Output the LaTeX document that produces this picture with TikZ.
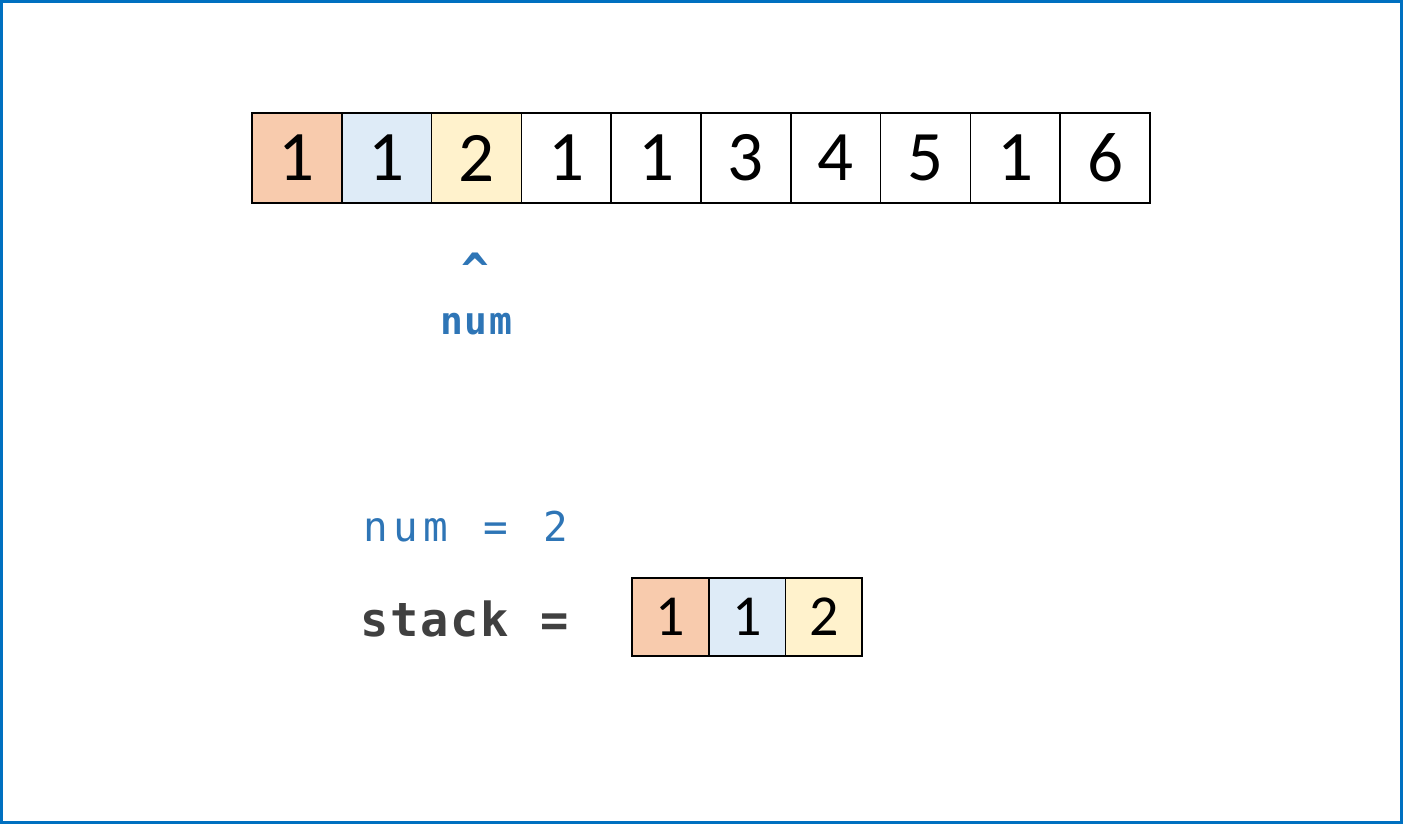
\documentclass[tikz,border=0pt]{standalone}
\usepackage{fontspec}
\newfontfamily\digitfont{Carlito}
\newfontfamily\codefont{DejaVu Sans Mono}
\definecolor{frameblue}{HTML}{0070C0}
\definecolor{codeblue}{HTML}{2E75B6}
\definecolor{codegray}{HTML}{404040}
\definecolor{cellorange}{HTML}{F8CBAD}
\definecolor{cellblue}{HTML}{DEEBF7}
\definecolor{cellyellow}{HTML}{FFF2CC}
\newcommand\ccc[2]{\makebox[#1][c]{#2}}
\tikzset{
  bigcell/.style={draw=black, line width=1.6pt, minimum width=89.8pt, minimum height=90pt, inner sep=0pt, outer sep=0pt, font=\digitfont\fontsize{71}{71}\selectfont},
  smallcell/.style={draw=black, line width=1.6pt, minimum width=76.7pt, minimum height=78pt, inner sep=0pt, outer sep=0pt, font=\digitfont\fontsize{58}{58}\selectfont},
  codetext/.style={inner sep=0pt, outer sep=0pt, anchor=base west}
}
\begin{document}
\begin{tikzpicture}[x=1pt,y=-1pt]
\useasboundingbox (0,0) rectangle (1403,824);
\draw[frameblue, line width=3pt] (1.5,1.5) rectangle (1401.5,822.5);
% top array
\foreach \v [count=\i] in {1,1,2,1,1,3,4,5,1,6}{
  \node[bigcell, fill=white] (a\i) at ({252+89.8*(\i-0.5)},158) {\v};
}
\node[bigcell, fill=cellorange] (a1) at ({252+89.8*0.5},158) {1};
\node[bigcell, fill=cellblue] (a2) at ({252+89.8*1.5},158) {1};
\node[bigcell, fill=cellyellow] (a3) at ({252+89.8*2.5},158) {2};
% pointer
\node[inner sep=0pt, anchor=base, text=codeblue, font=\codefont\bfseries\fontsize{46}{46}\selectfont] (caret) at (475,286) {\^{}};
\node[inner sep=0pt, anchor=base, text=codeblue, font=\codefont\bfseries\fontsize{38}{38}\selectfont] (numlbl) at (476,334) {\ccc{24.5pt}{n}\ccc{24.5pt}{u}\ccc{24.5pt}{m}};
% code lines
\node[codetext, text=codeblue, font=\codefont\fontsize{41}{41}\selectfont] (numline) at (360.5,541) {\ccc{30pt}{n}\ccc{30pt}{u}\ccc{30pt}{m}\ccc{30pt}{\ }\ccc{30pt}{=}\ccc{30pt}{\ }\ccc{30pt}{2}};
\node[codetext, text=codegray, font=\codefont\bfseries\fontsize{47}{47}\selectfont] (stackline) at (360,636) {\ccc{30pt}{s}\ccc{30pt}{t}\ccc{30pt}{a}\ccc{30pt}{c}\ccc{30pt}{k}\ccc{30pt}{\ }\ccc{30pt}{=}};
% stack
\node[smallcell, fill=cellorange] (s1) at ({632+76.7*0.5},617) {1};
\node[smallcell, fill=cellblue] (s2) at ({632+76.7*1.5},617) {1};
\node[smallcell, fill=cellyellow] (s3) at ({632+76.7*2.5},617) {2};
\end{tikzpicture}
\end{document}
